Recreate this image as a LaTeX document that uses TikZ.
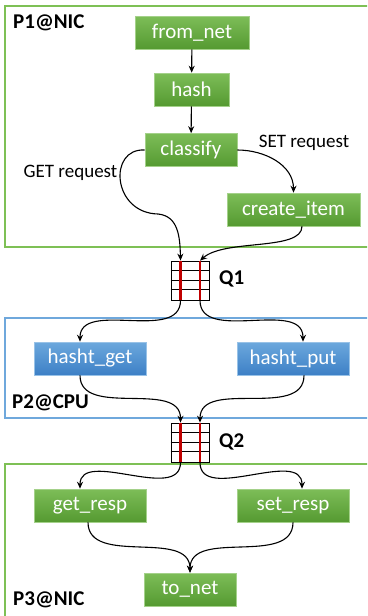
\documentclass[tikz,border=0pt]{standalone}
\usepackage{fontspec}
\setmainfont{Carlito}
\usetikzlibrary{arrows.meta,calc}
\definecolor{gtop}{HTML}{7DBD58}
\definecolor{gbot}{HTML}{559A31}
\definecolor{btop}{HTML}{6CA8DD}
\definecolor{bbot}{HTML}{3D80C6}
\definecolor{gframe}{HTML}{7EC055}
\definecolor{bframe}{HTML}{6FA8DC}
\definecolor{qred}{HTML}{C00000}
\tikzset{
  gbox/.style={rectangle, draw=gtop!70!white, line width=0.6pt, top color=gtop, bottom color=gbot,
    text=white, minimum height=33pt, inner sep=0pt, font=\fontsize{21}{25}\selectfont},
  bbox/.style={rectangle, draw=btop!70!white, line width=0.6pt, top color=btop, bottom color=bbot,
    text=white, minimum height=33pt, inner sep=0pt, font=\fontsize{21}{25}\selectfont},
  lbl/.style={font=\fontsize{19}{23}\selectfont, inner sep=0pt},
  plbl/.style={font=\bfseries\fontsize{21}{25}\selectfont, inner sep=0pt, anchor=west},
  queue/.style={rectangle, draw=black, line width=0.8pt, minimum width=38pt, minimum height=39pt, inner sep=0pt},
  flow/.style={draw=black, line width=1.1pt, -{Stealth[length=7pt,width=6pt]}},
  frame/.style={line width=1.4pt},
}
\begin{document}
\begin{tikzpicture}[x=1pt,y=-1pt]
\useasboundingbox (0,0) rectangle (367,616);
\begin{scope}
\clip (0,0) rectangle (367,616);
% panels
\draw[frame, draw=gframe] (5,6) rectangle (380,247);
\draw[frame, draw=bframe] (5,318) rectangle (380,418);
\draw[frame, draw=gframe] (5,464) rectangle (380,630);
\end{scope}
% panel labels
\node[plbl] (p1) at (13,23) {P1@NIC};
\node[plbl] (p2) at (12,403) {P2@CPU};
\node[plbl] (p3) at (13,600) {P3@NIC};
% nodes
\node[gbox, minimum width=114pt] (fromnet) at (192,32.5) {from\_net};
\node[gbox, minimum width=75pt] (hash) at (191.5,89.5) {hash};
\node[gbox, minimum width=92pt] (classify) at (191,150) {classify};
\node[gbox, minimum width=133pt] (create) at (293.5,209.5) {create\_item};
\node[bbox, minimum width=112pt] (hget) at (90,358.5) {hasht\_get};
\node[bbox, minimum width=112pt] (hput) at (293,358.5) {hasht\_put};
\node[gbox, minimum width=112pt] (gresp) at (90,505.5) {get\_resp};
\node[gbox, minimum width=112pt] (sresp) at (293,505.5) {set\_resp};
\node[gbox, minimum width=92pt] (tonet) at (190,589.5) {to\_net};
% queues
\foreach \q/\yc in {q1/280.5, q2/442.5}{
  \node[queue] (\q) at (190,\yc) {};
  \draw[line width=0.8pt] ($(\q.north west)+(0,10)$) -- ($(\q.north east)+(0,10)$)
    ($(\q.north west)+(0,20)$) -- ($(\q.north east)+(0,20)$)
    ($(\q.north west)+(0,29)$) -- ($(\q.north east)+(0,29)$);
  \draw[qred, line width=2.4pt] ($(\q.north)+(-9.5,0)$) -- ($(\q.south)+(-9.5,0)$)
    ($(\q.north)+(10,0)$) -- ($(\q.south)+(10,0)$);
  \coordinate (\q inl) at ($(\q.north)+(-9.5,0)$);
  \coordinate (\q inr) at ($(\q.north)+(10,0)$);
  \coordinate (\q outl) at ($(\q.south)+(-9.5,0)$);
  \coordinate (\q outr) at ($(\q.south)+(10,0)$);
}
\node[plbl] (q1l) at (219,279) {Q1};
\node[plbl] (q2l) at (219,442) {Q2};
% edge labels
\node[lbl] (setl) at (304,143) {SET request};
\node[lbl] (getl) at (70.5,173) {GET request};
% connectors
\draw[flow] (fromnet) -- (hash);
\draw[flow] (hash) -- (classify);
\draw[flow] (classify.east) to[out=0,in=90] (create.north);
\draw[flow] (classify.west) .. controls (108,148) and (112,213) .. (158,214)
   .. controls (178,216) and (180,236) .. (q1inl);
\draw[flow] ($(create.south)+(8.5,0)$) .. controls +(0,25) and +(25,-22) .. (q1inr);
\draw[flow] (q1outl) to[out=-90,in=90] ($(hget.north)+(-10,0)$);
\draw[flow] (q1outr) to[out=-90,in=90] ($(hput.north)+(10,0)$);
\draw[flow] ($(hget.south)+(-10,0)$) to[out=-90,in=90] (q2inl);
\draw[flow] ($(hput.south)+(11,0)$) to[out=-90,in=90] (q2inr);
\draw[flow] (q2outl) to[out=-90,in=90] ($(gresp.north)+(-10,0)$);
\draw[flow] (q2outr) to[out=-90,in=90] ($(sresp.north)+(9,0)$);
\draw[flow] ($(gresp.south)+(-2,0)$) to[out=-90,in=90] (tonet.north);
\draw[flow] (sresp.south) to[out=-90,in=90] (tonet.north);
\end{tikzpicture}
\end{document}
